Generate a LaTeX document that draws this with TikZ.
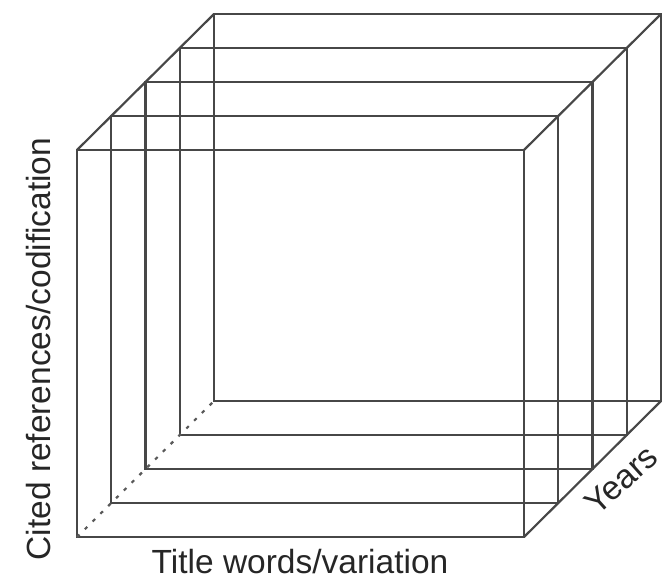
\documentclass[tikz,border=0pt]{standalone}
\usepackage{fontspec}
\setmainfont{Liberation Sans}
\begin{document}
\begin{tikzpicture}[x=1pt,y=-1pt,
  frameline/.style={draw=black!72, line width=2.2pt},
  hiddenline/.style={draw=black!65, line width=2.2pt, dash pattern=on 3.5pt off 7.5pt},
  axislabel/.style={font=\fontsize{33.5}{40}\selectfont, text=black!85, inner sep=0pt}]
\useasboundingbox (0,0) rectangle (664,579);
% five parallel slices of the data cube, front to back
\foreach \k in {0,...,4} {
  \draw[frameline] ({77+34.25*\k},{150-34*\k}) rectangle ({524+34.25*\k},{537-34*\k});
}
% depth edges
\coordinate (ftl) at (77,150);   \coordinate (btl) at (214,14);
\coordinate (ftr) at (524,150);  \coordinate (btr) at (661,14);
\coordinate (fbr) at (524,537);  \coordinate (bbr) at (661,401);
\coordinate (fbl) at (77,537);   \coordinate (bbl) at (214,401);
\draw[frameline] (ftl) -- (btl);
\draw[frameline] (ftr) -- (btr);
\draw[frameline] (fbr) -- (bbr);
\draw[hiddenline] (fbl) -- (bbl);
% axis labels
\node[axislabel, anchor=base] (xlab) at (300,573) {Title words/variation};
\node[axislabel, anchor=base, rotate=90] (ylab) at (50,349) {Cited references/codification};
\node[axislabel, rotate=42] (zlab) at (621,480) {Years};
\end{tikzpicture}
\end{document}
